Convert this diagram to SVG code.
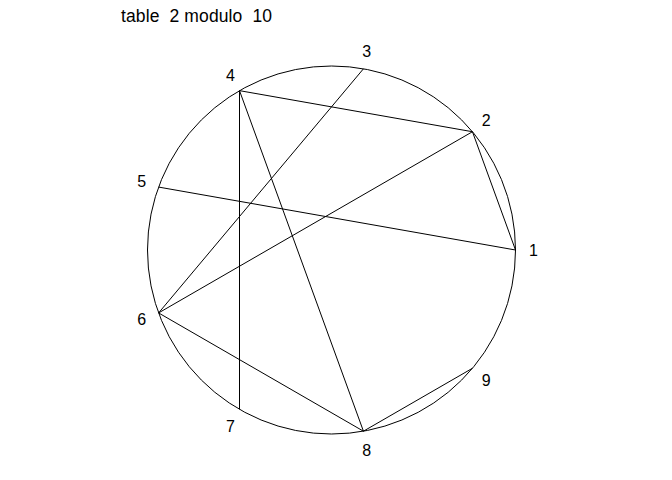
<svg xmlns="http://www.w3.org/2000/svg" width="672" height="480" viewBox="0 0 672 480">
<style>
.ln{stroke:#000;stroke-width:1;fill:none}
.lab{font-family:"Liberation Sans",Arial,sans-serif;font-size:16px;fill:#000;text-anchor:middle}
.title{font-family:"Liberation Sans",Arial,sans-serif;font-size:17.5px;fill:#000}
</style>
<rect width="672" height="480" fill="#fff"/>
<text class="title" x="121" y="22" xml:space="preserve" textLength="151">table  2 modulo  10</text>
<circle id="circle" class="ln" cx="331.5" cy="250" r="184"/>
<g id="connectors">
<line class="ln" x1="515.5" y1="250" x2="472.45" y2="131.73"/>
<line class="ln" x1="472.45" y1="131.73" x2="239.5" y2="90.65"/>
<line class="ln" x1="363.45" y1="68.8" x2="158.6" y2="312.93"/>
<line class="ln" x1="239.5" y1="90.65" x2="363.45" y2="431.2"/>
<line class="ln" x1="158.6" y1="187.07" x2="515.5" y2="250"/>
<line class="ln" x1="158.6" y1="312.93" x2="472.45" y2="131.73"/>
<line class="ln" x1="239.5" y1="409.35" x2="239.5" y2="90.65"/>
<line class="ln" x1="363.45" y1="431.2" x2="158.6" y2="312.93"/>
<line class="ln" x1="472.45" y1="368.27" x2="363.45" y2="431.2"/>
</g>
<g id="n1"><text class="lab" x="533.5" y="256">1</text></g>
<g id="n2"><text class="lab" x="486.2" y="126">2</text></g>
<g id="n3"><text class="lab" x="366.6" y="57">3</text></g>
<g id="n4"><text class="lab" x="230.5" y="81">4</text></g>
<g id="n5"><text class="lab" x="141.7" y="187">5</text></g>
<g id="n6"><text class="lab" x="141.7" y="325">6</text></g>
<g id="n7"><text class="lab" x="230.5" y="432">7</text></g>
<g id="n8"><text class="lab" x="366.6" y="456">8</text></g>
<g id="n9"><text class="lab" x="486.2" y="386">9</text></g>
</svg>
